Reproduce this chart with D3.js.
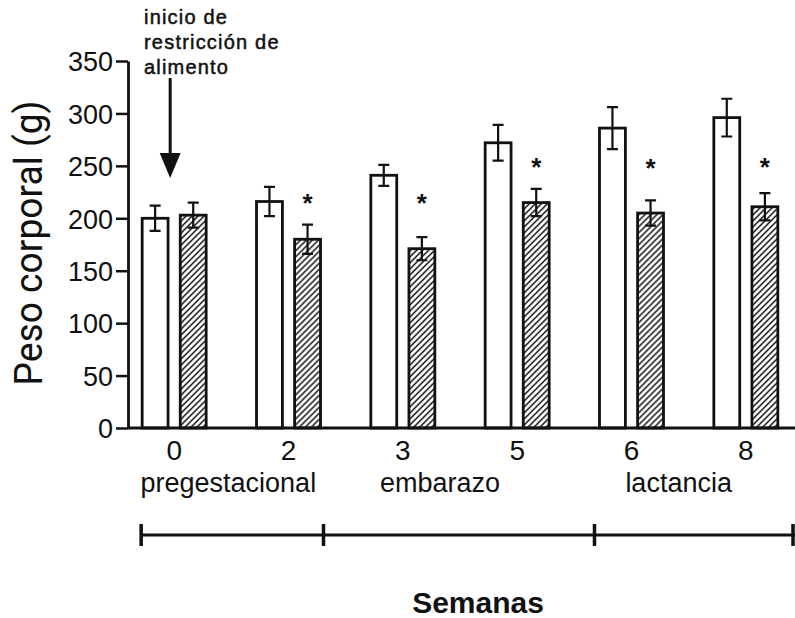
<!DOCTYPE html>
<html>
<head>
<meta charset="utf-8">
<script src="https://cdn.jsdelivr.net/npm/d3@7"></script>
<style>
  body { margin: 0; background: #fff; }
  text { font-family: 'Liberation Sans', Arial, sans-serif; fill: #111; }
</style>
</head>
<body>
<svg id="chart" width="795" height="618"></svg>
<script>
// data (body weight, g)
const weeks = ['0', '2', '3', '5', '6', '8']
const control = [200, 216, 241, 272, 286, 296]
const controlErr = [12, 14, 10, 17, 20, 18]
const restricted = [203, 180, 171, 215, 205, 211]
const restrictedErr = [12, 14, 11, 13, 12, 13]
// asterisk level (g) above the restricted bar, null = not significant
const starLevel = [null, 219, 219, 254, 253, 254]
const phases = ['pregestacional', 'embarazo', 'lactancia']
const phaseWeeks = [['0', '2'], ['3', '5'], ['6', '8']]
const yTicks = [0, 50, 100, 150, 200, 250, 300, 350]

const width = 795
const height = 618
const axisX = 128
const baseY = 428

const svg = d3.select('#chart')

// hatch pattern for the restricted group
const defs = svg.append('defs')
const pat = defs
  .append('pattern')
  .attr('id', 'hatch')
  .attr('patternUnits', 'userSpaceOnUse')
  .attr('width', 6)
  .attr('height', 6)
pat
  .append('path')
  .attr('d', 'M-1,1 L1,-1 M0,6 L6,0 M5,7 L7,5')
  .attr('stroke', '#111')
  .attr('stroke-width', 1.5)

// scales
const x = d3
  .scaleBand()
  .domain(weeks)
  .range([117, 803])

const x1 = d3
  .scaleBand()
  .domain(['control', 'restricted'])
  .range([-32, 32])
  .paddingInner(0.32)

const y = d3
  .scaleLinear()
  .domain([0, 350])
  .range([baseY, 61])

const xc = d => x(d) + x.bandwidth() / 2

const rows = weeks.map((w, i) => ({
  week: w,
  control: control[i],
  controlErr: controlErr[i],
  restricted: restricted[i],
  restrictedErr: restrictedErr[i],
  star: starLevel[i]
}))

// y axis
const yAxis = svg
  .append('g')
  .attr('transform', `translate(${axisX},0)`)
  .call(
    d3
      .axisLeft(y)
      .tickValues(yTicks)
      .tickSize(12)
      .tickSizeOuter(0)
      .tickPadding(3)
  )
yAxis.select('.domain').attr('stroke', '#111').attr('stroke-width', 2.8)
yAxis.selectAll('.tick line').attr('stroke', '#111').attr('stroke-width', 2.5)
yAxis
  .selectAll('.tick text')
  .style('font-size', '27px')
  .attr('fill', '#111')
  .attr('dy', '0.36em')

svg
  .append('text')
  .text('Peso corporal (g)')
  .attr('transform', 'translate(42,243) rotate(-90)')
  .attr('text-anchor', 'middle')
  .attr('textLength', 285)
  .attr('lengthAdjust', 'spacingAndGlyphs')
  .style('font-size', '38px')
  .style('font-family', "'Liberation Sans Narrow', 'Roboto', sans-serif")

// bars
const groups = svg
  .selectAll('.group')
  .data(rows)
  .enter()
  .append('g')
  .attr('class', 'group')
  .attr('transform', d => `translate(${xc(d.week)},0)`)

groups
  .append('rect')
  .attr('x', x1('control'))
  .attr('width', x1.bandwidth())
  .attr('y', d => y(d.control))
  .attr('height', d => baseY - y(d.control))
  .attr('fill', '#fff')
  .attr('stroke', '#111')
  .attr('stroke-width', 2.8)

groups
  .append('rect')
  .attr('x', x1('restricted'))
  .attr('width', x1.bandwidth())
  .attr('y', d => y(d.restricted))
  .attr('height', d => baseY - y(d.restricted))
  .attr('fill', 'url(#hatch)')
  .attr('stroke', '#111')
  .attr('stroke-width', 2.8)

// error bars
function errorBar(key, errKey) {
  const cx = x1(key) + x1.bandwidth() / 2
  const cap = 5.5
  groups
    .append('path')
    .attr('d', d => {
      const top = y(d[key] + d[errKey])
      const bot = y(d[key] - d[errKey])
      return `M${cx},${top}V${bot}M${cx - cap},${top}H${cx + cap}M${cx - cap},${bot}H${cx + cap}`
    })
    .attr('fill', 'none')
    .attr('stroke', '#111')
    .attr('stroke-width', 2.2)
}
errorBar('control', 'controlErr')
errorBar('restricted', 'restrictedErr')

// asterisks
groups
  .filter(d => d.star !== null)
  .append('text')
  .text('*')
  .attr('x', x1('restricted') + x1.bandwidth() / 2)
  .attr('y', d => y(d.star) + 14)
  .attr('text-anchor', 'middle')
  .style('font-size', '26px')
  .style('font-weight', 'bold')

// x axis
svg
  .append('line')
  .attr('x1', axisX)
  .attr('x2', width)
  .attr('y1', baseY)
  .attr('y2', baseY)
  .attr('stroke', '#111')
  .attr('stroke-width', 2.8)

const xAxis = svg
  .append('g')
  .attr('transform', `translate(0,${baseY})`)
  .call(d3.axisBottom(x).tickSize(0).tickPadding(12))
xAxis.select('.domain').remove()
xAxis
  .selectAll('.tick text')
  .style('font-size', '28px')
  .attr('fill', '#111')

// phase labels
const phaseShift = [-3, -20, -10]
svg
  .selectAll('.phase')
  .data(phases)
  .enter()
  .append('text')
  .attr('class', 'phase')
  .text(d => d)
  .attr('x', (d, i) => (xc(phaseWeeks[i][0]) + xc(phaseWeeks[i][1])) / 2 + phaseShift[i])
  .attr('y', 492)
  .attr('text-anchor', 'middle')
  .style('font-size', '27px')

// timeline below the phases
const marks = [xc('0') - 33, xc('2') + 35, xc('6') - 37, width - 2]
svg
  .append('line')
  .attr('x1', marks[0])
  .attr('x2', width)
  .attr('y1', 535)
  .attr('y2', 535)
  .attr('stroke', '#111')
  .attr('stroke-width', 3)
svg
  .selectAll('.tl-tick')
  .data(marks)
  .enter()
  .append('line')
  .attr('x1', d => d)
  .attr('x2', d => d)
  .attr('y1', 524)
  .attr('y2', 546)
  .attr('stroke', '#111')
  .attr('stroke-width', 3.5)

svg
  .append('text')
  .text('Semanas')
  .attr('x', 478)
  .attr('y', 613)
  .attr('text-anchor', 'middle')
  .style('font-size', '30px')
  .style('font-weight', 'bold')

// annotation: start of food restriction
const note = ['inicio de', 'restricción de', 'alimento']
svg
  .selectAll('.note')
  .data(note)
  .enter()
  .append('text')
  .attr('class', 'note')
  .text(d => d)
  .attr('x', 144)
  .attr('y', (d, i) => 24 + i * 25)
  .style('font-size', '20px')
  .style('letter-spacing', '1.2px')
  .attr('stroke', '#111')
  .attr('stroke-width', 0.5)

const arrowX = xc('0') - 4
svg
  .append('line')
  .attr('x1', arrowX)
  .attr('x2', arrowX)
  .attr('y1', 78)
  .attr('y2', 156)
  .attr('stroke', '#111')
  .attr('stroke-width', 3)
svg
  .append('path')
  .attr('d', `M${arrowX - 10.5},153 L${arrowX + 10.5},153 L${arrowX},178 Z`)
  .attr('fill', '#111')
</script>
</body>
</html>
